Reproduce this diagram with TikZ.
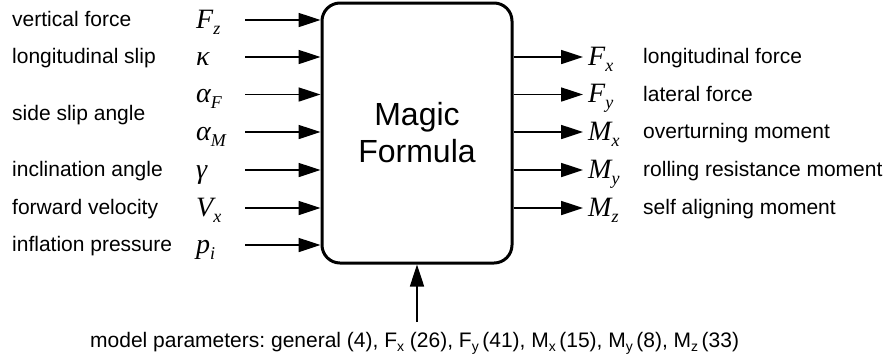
\documentclass[tikz,border=0pt]{standalone}
\usepackage{fontspec}
\setmainfont{Liberation Sans}
\newfontfamily\symfont{Liberation Serif}
\usetikzlibrary{arrows.meta}
\frenchspacing

% italic quantity with a subscript
\newcommand\qsym[2]{{\symfont\itshape\fontsize{28}{30}\selectfont #1\raisebox{-0.22em}{\fontsize{18}{20}\selectfont #2}}}
% small sans subscript in running text
\newcommand\ssub[1]{\raisebox{-0.22em}{\fontsize{14}{15}\selectfont #1}}

\tikzset{
  lbl/.style={inner sep=0pt, anchor=base west, font=\fontsize{21}{24}\selectfont},
  qty/.style={inner sep=0pt, anchor=base west},
  arr/.style={line width=1.7pt, -{Triangle[length=22pt,width=14pt]}},
  blockbox/.style={draw, line width=3pt, rounded corners=18pt,
    minimum width=190pt, minimum height=260pt, inner sep=0pt,
    align=center, font=\fontsize{32}{37}\selectfont},
}

\begin{document}
\begin{tikzpicture}[x=1pt,y=-1pt]
\useasboundingbox (0,0) rectangle (888,360);

\node[blockbox] (box) at (417,133) {Magic\\Formula};

% inputs
\foreach \i/\y/\q/\s in {1/20/F/z, 2/57/\char"03BA/{}, 3/94.5/\char"03B1/F,
    4/132/\char"03B1/M, 5/170/\char"03B3/{}, 6/208/V/x, 7/245/p/i}{
  \node[qty] (in\i) at (196,\y+8) {\qsym{\q}{\s}};
  \coordinate (ia\i) at (245,\y);
  \draw[arr] (ia\i) -- (ia\i -| box.west);
}
\node[lbl] (t1) at (12,26.5) {vertical force};
\node[lbl] (t2) at (12,63.5) {longitudinal slip};
\node[lbl] (t3) at (12,120) {side slip angle};
\node[lbl] (t5) at (12,176.5) {inclination angle};
\node[lbl] (t6) at (12,214.5) {forward velocity};
\node[lbl] (t7) at (12,251.5) {inflation pressure};

% outputs
\foreach \i/\y/\q/\s/\t in {1/57/F/x/longitudinal force, 2/94.5/F/y/lateral force,
    3/132/M/x/overturning moment, 4/170/M/y/rolling resistance moment,
    5/208/M/z/self aligning moment}{
  \coordinate (oa\i) at (583,\y);
  \draw[arr] (oa\i -| box.east) -- (oa\i);
  \node[qty] (out\i) at (588,\y+8) {\qsym{\q}{\s}};
  \node[lbl] (ot\i) at (643,\y+6.5) {\t};
}

% parameters
\coordinate (pa) at (417,322);
\draw[arr] (pa) -- (box.south);
\node[lbl] (par) at (90,347) {model parameters: general (4), F\ssub{x} (26),
  F\ssub{y}\,(41), M\ssub{x}\,(15), M\ssub{y}\,(8), M\ssub{z}\,(33)};
\end{tikzpicture}
\end{document}
